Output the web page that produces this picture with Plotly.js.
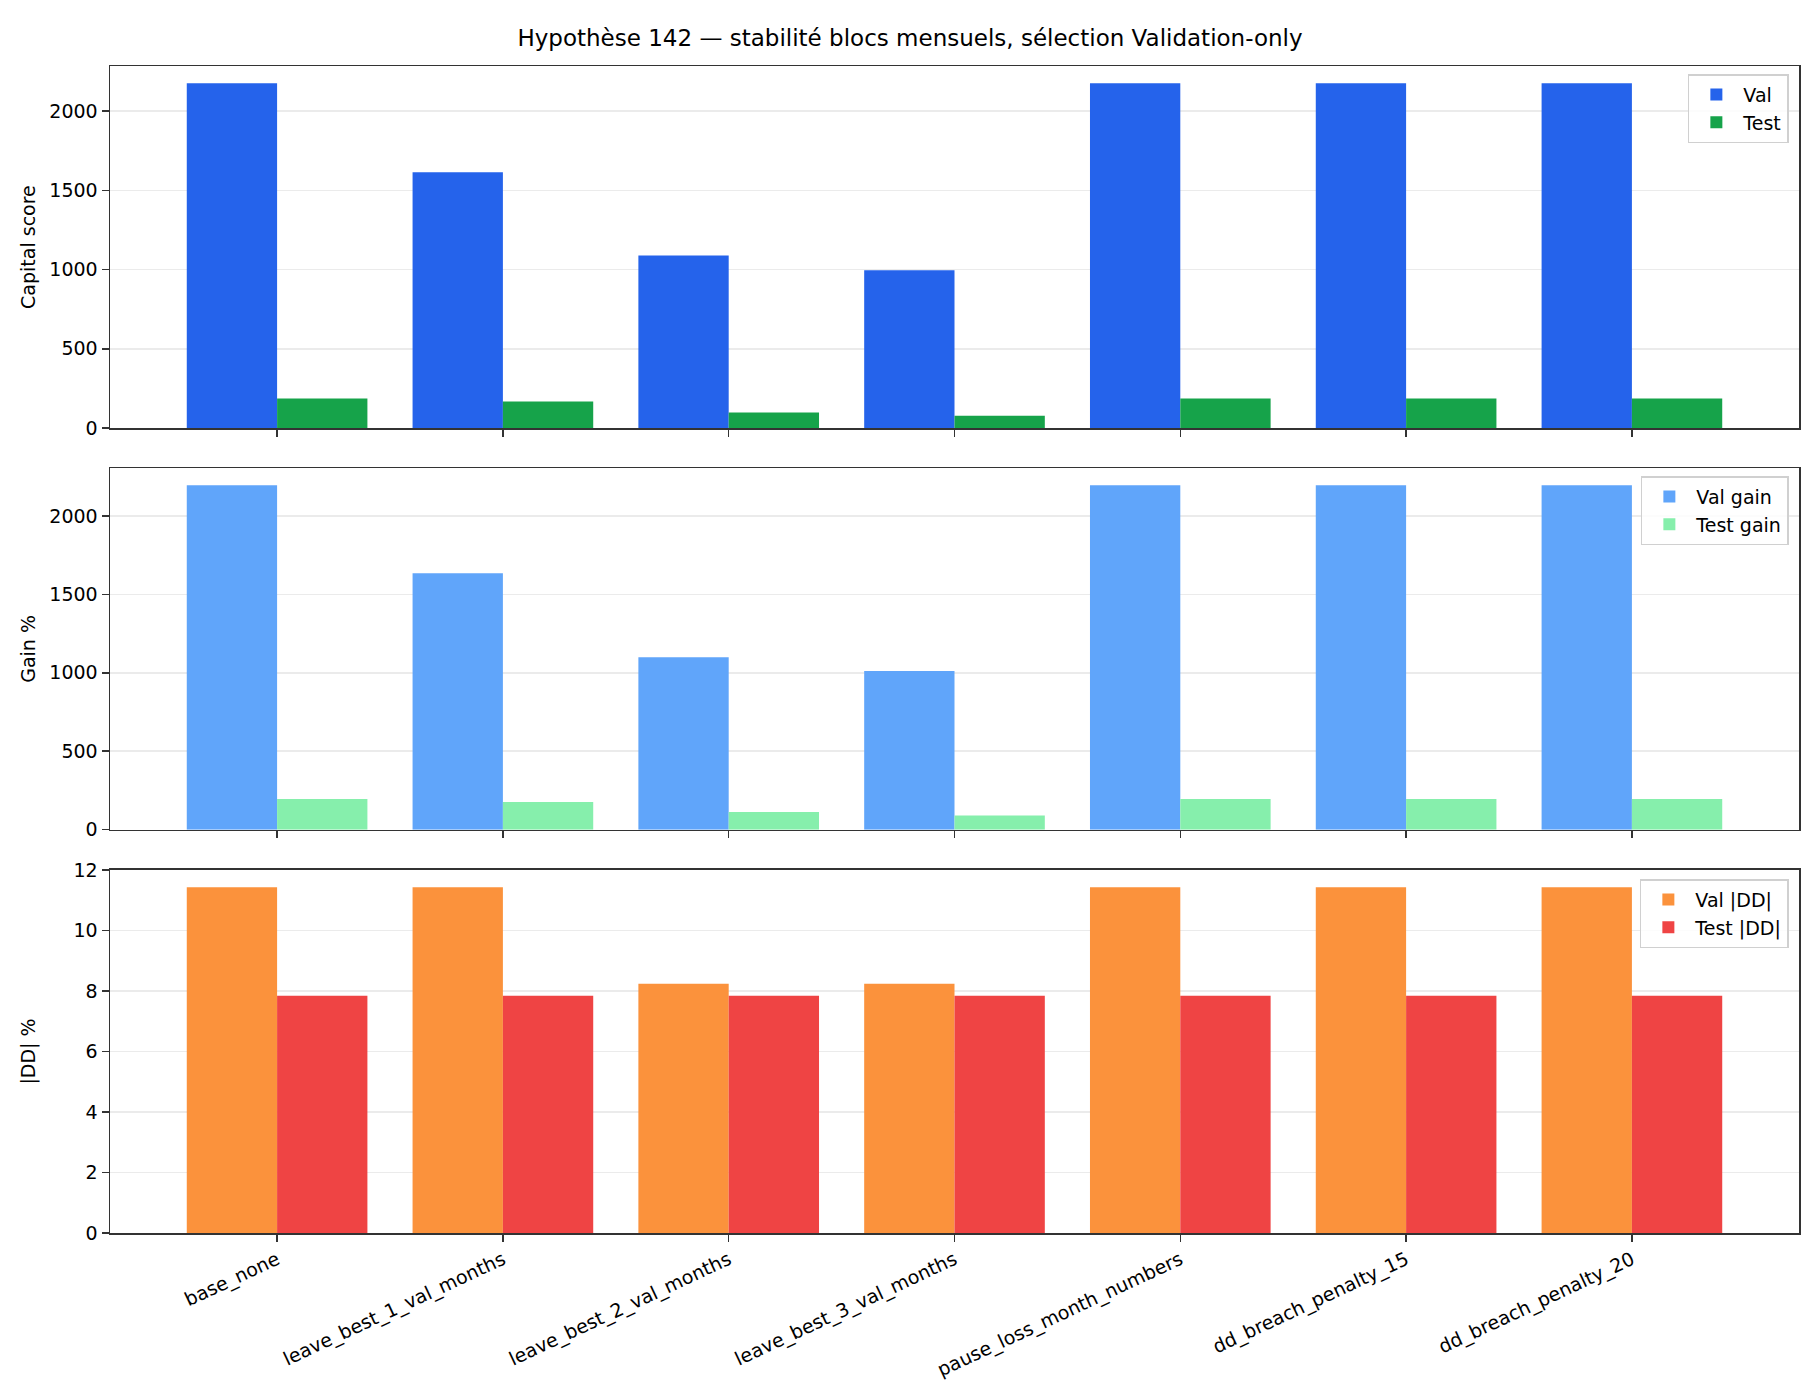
<!DOCTYPE html>
<html>
<head>
<meta charset="utf-8">
<script src="https://cdn.plot.ly/plotly-3.0.1.min.js"></script>
<style>
  body { margin: 0; background: #fff; }
  #chart { width: 1820px; height: 1400px; }
</style>
</head>
<body>
<div id="chart"></div>
<script>
var variants = ["base_none", "leave_best_1_val_months", "leave_best_2_val_months",
    "leave_best_3_val_months", "pause_loss_month_numbers", "dd_breach_penalty_15",
    "dd_breach_penalty_20"];

// capital score
var valScore = [2175, 1613, 1089, 995, 2175, 2175, 2175];
var testScore = [187, 168, 99, 78, 187, 187, 187];

// gain %
var valGain = [2195, 1635, 1100, 1011, 2195, 2195, 2195];
var testGain = [195, 176, 113, 91, 195, 195, 195];

// |DD| %
var valDD = [11.43, 11.43, 8.24, 8.24, 11.43, 11.43, 11.43];
var testDD = [7.84, 7.84, 7.84, 7.84, 7.84, 7.84, 7.84];

var FONT = "DejaVu Sans";
var xpos = variants.map(function (d, i) { return i; });

function bar(name, vals, color, n, leg) {
    return {
        type: 'bar',
        name: name,
        x: xpos,
        y: vals,
        marker: {color: color, line: {width: 0}},
        xaxis: n === 1 ? 'x' : 'x' + n,
        yaxis: n === 1 ? 'y' : 'y' + n,
        legend: leg,
        hoverinfo: 'y'
    };
}

var data = [
    bar('Val', valScore, '#2563eb', 1, 'legend'),
    bar('Test', testScore, '#16a34a', 1, 'legend'),
    bar('Val gain', valGain, '#60a5fa', 2, 'legend2'),
    bar('Test gain', testGain, '#86efac', 2, 'legend2'),
    bar('Val |DD|', valDD, '#fb923c', 3, 'legend3'),
    bar('Test |DD|', testDD, '#ef4444', 3, 'legend3')
];

function xax(anchor, labels) {
    return {
        anchor: anchor,
        range: [-0.74, 6.74],
        tickvals: xpos,
        ticktext: labels ? variants : variants.map(function () { return ''; }),
        tickangle: labels ? -25 : 0,
        ticks: 'outside',
        ticklen: 7,
        tickwidth: 1.5,
        tickcolor: '#333',
        showline: true,
        linecolor: '#333',
        linewidth: 1.5,
        mirror: true,
        showgrid: false,
        zeroline: false,
        tickfont: {family: FONT, size: 19, color: '#000'}
    };
}

function yax(domain, title, maxv, dtick, standoff) {
    return {
        domain: domain,
        range: [0, maxv * 1.05],
        dtick: dtick,
        ticks: 'outside',
        ticklen: 7,
        tickwidth: 1.5,
        tickcolor: '#333',
        showline: true,
        linecolor: '#333',
        linewidth: 1.5,
        mirror: true,
        showgrid: true,
        gridcolor: '#ebebeb',
        gridwidth: 1.5,
        zeroline: false,
        tickfont: {family: FONT, size: 19, color: '#000'},
        title: {text: title, standoff: standoff, font: {family: FONT, size: 19, color: '#000'}}
    };
}

function legendBox(top) {
    return {
        x: 0.994, xanchor: 'right',
        y: top, yanchor: 'top',
        bgcolor: 'rgba(255,255,255,0.85)',
        bordercolor: '#d0d0d0',
        borderwidth: 1.5,
        itemwidth: 44,
        font: {family: FONT, size: 19, color: '#000'},
        traceorder: 'normal'
    };
}

var layout = {
    width: 1820,
    height: 1400,
    margin: {l: 110, r: 21, t: 66, b: 167},
    paper_bgcolor: '#fff',
    plot_bgcolor: '#fff',
    font: {family: FONT, color: '#000'},
    title: {
        text: 'Hypothèse 142 — stabilité blocs mensuels, sélection Validation-only',
        x: 0.5, xanchor: 'center',
        y: 1 - 38 / 1400, yanchor: 'middle', yref: 'container',
        font: {family: FONT, size: 23, color: '#000'}
    },
    barmode: 'group',
    bargap: 0.2,
    bargroupgap: 0,
    showlegend: true,
    xaxis: xax('y', false),
    xaxis2: xax('y2', false),
    xaxis3: xax('y3', true),
    yaxis: yax([0.6897, 1], 'Capital score', Math.max.apply(null, valScore), 500, 8),
    yaxis2: yax([0.3456, 0.6554], 'Gain %', Math.max.apply(null, valGain), 500, 8),
    yaxis3: yax([0, 0.3111], '|DD| %', Math.max.apply(null, valDD), 2, 33),
    legend: legendBox(0.993),
    legend2: legendBox(0.6486),
    legend3: legendBox(0.3032)
};

Plotly.newPlot('chart', data, layout, {displayModeBar: false, staticPlot: true});
</script>
</body>
</html>
